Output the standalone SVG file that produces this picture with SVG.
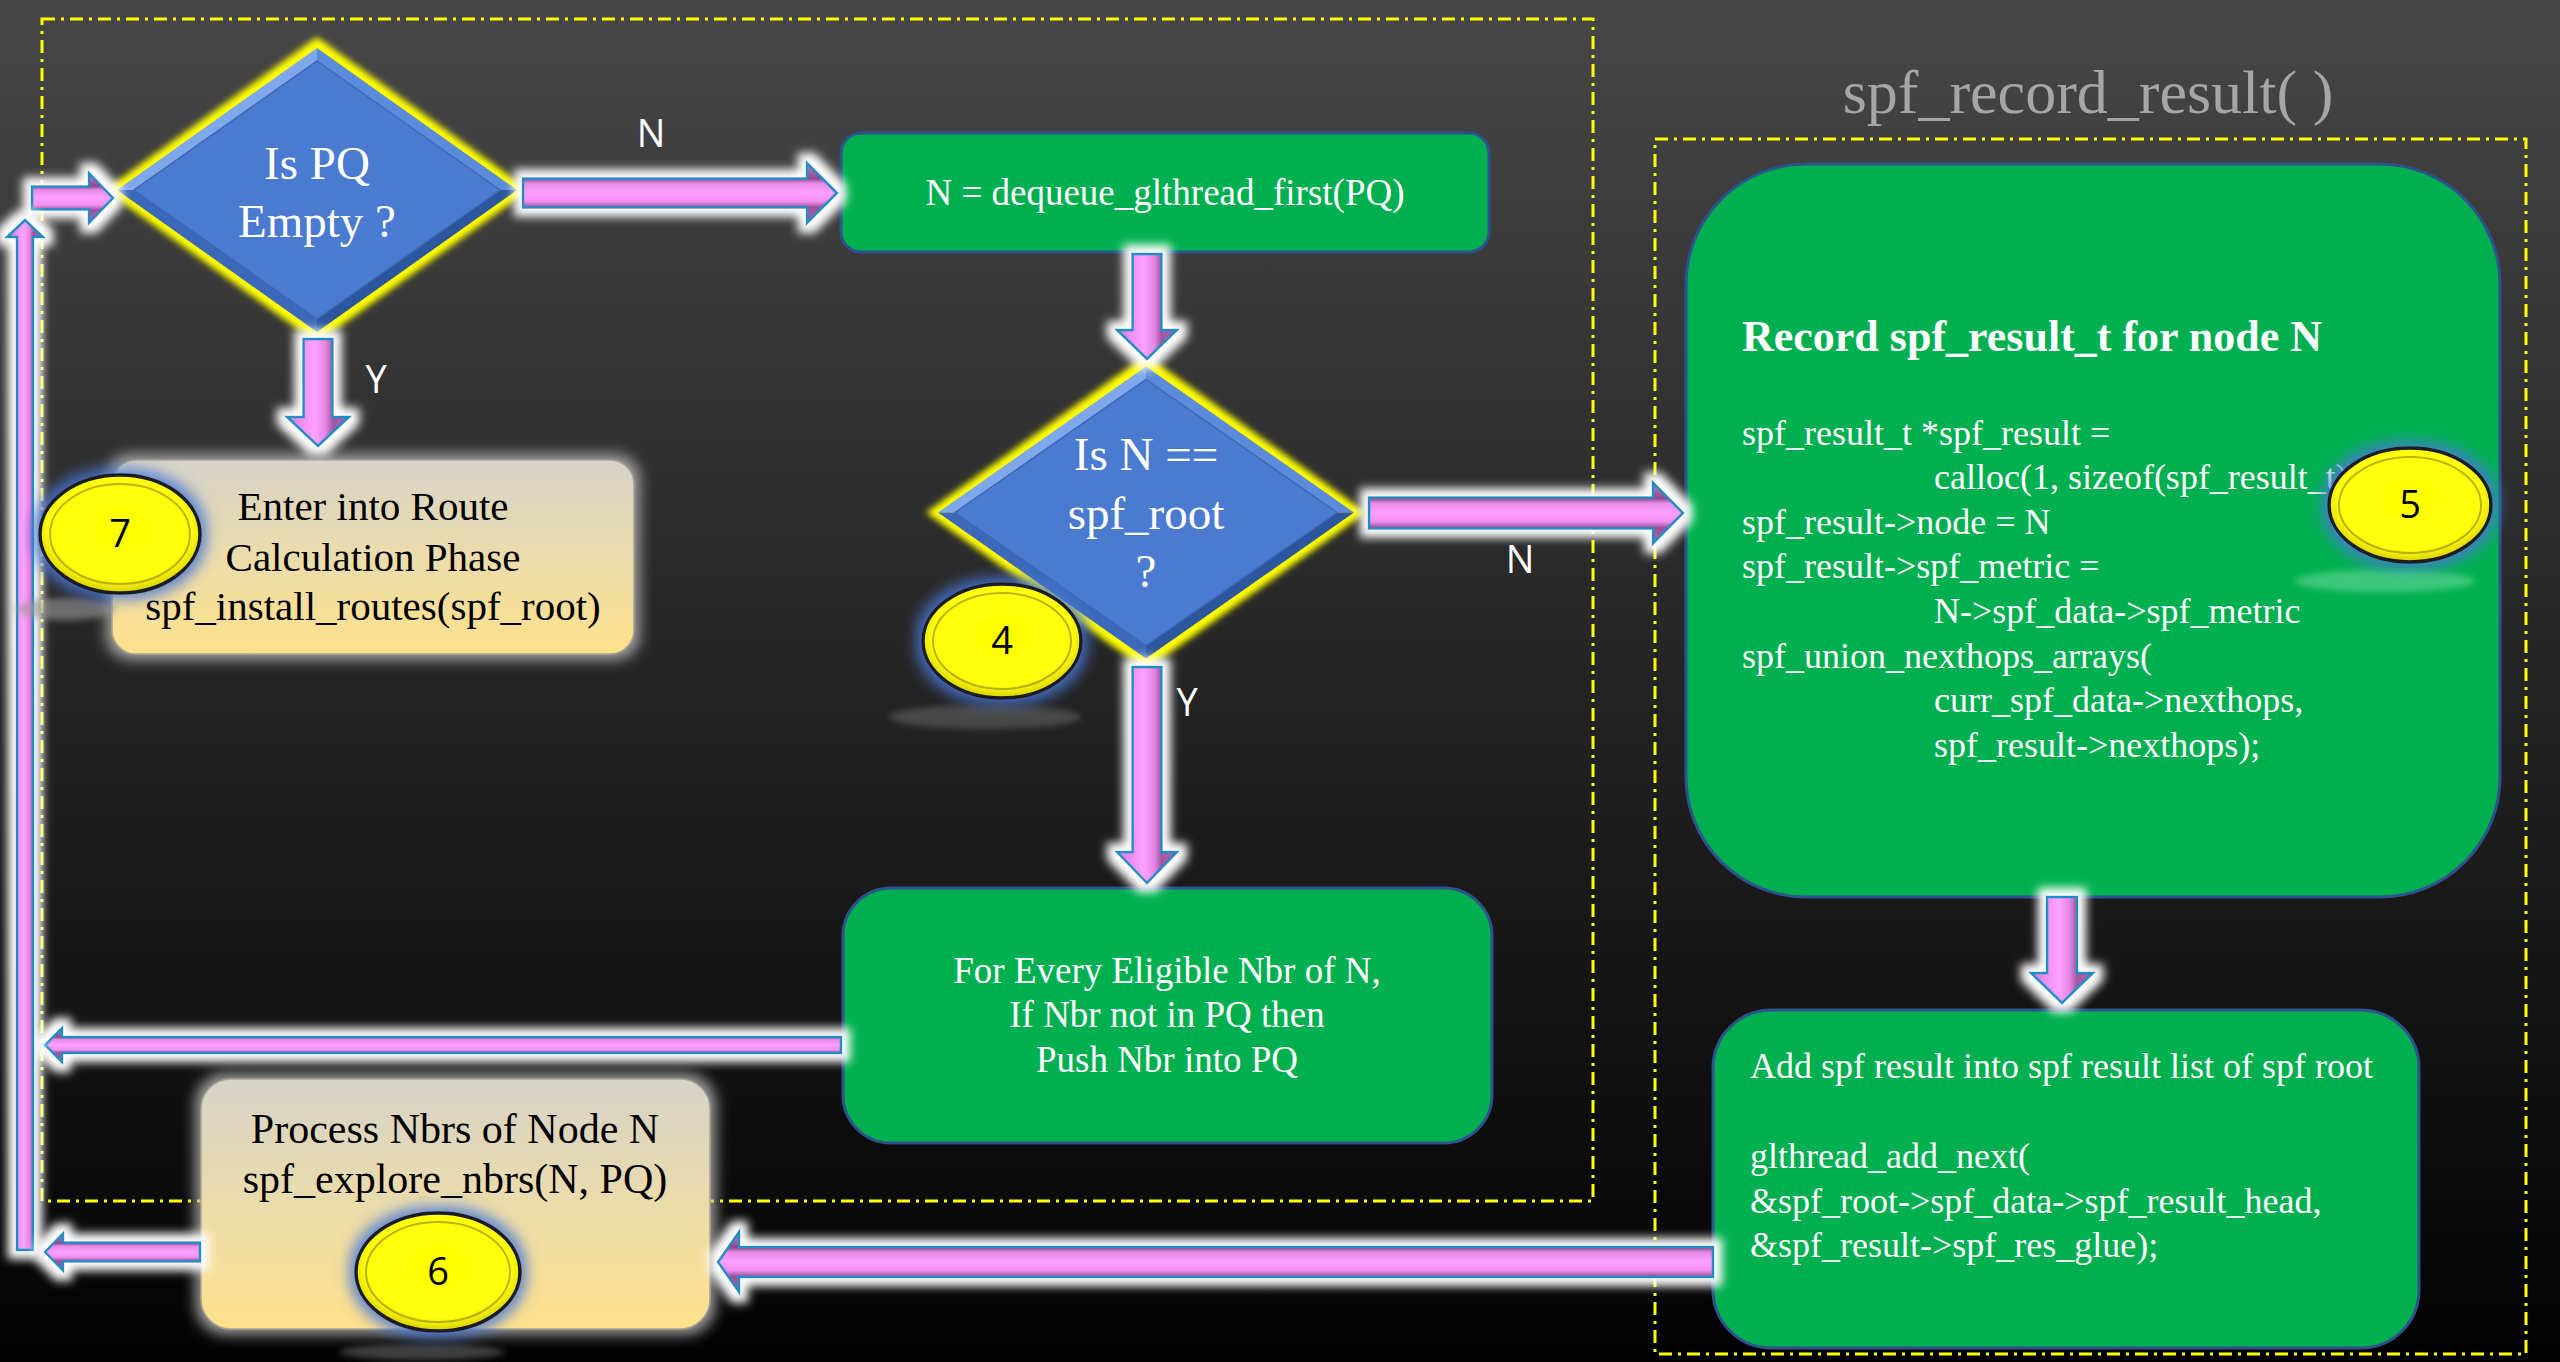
<svg xmlns="http://www.w3.org/2000/svg" width="2560" height="1362" viewBox="0 0 2560 1362">
  <defs>
    <linearGradient id="bg" x1="0" y1="0" x2="0" y2="1">
      <stop offset="0" stop-color="#474747"/>
      <stop offset="0.5" stop-color="#242424"/>
      <stop offset="1" stop-color="#020202"/>
    </linearGradient>
    <!-- pink beveled arrow shading, across the shaft -->
    <linearGradient id="pinkH" x1="0" y1="0" x2="0" y2="1">
      <stop offset="0" stop-color="#d27ad2"/>
      <stop offset="0.26" stop-color="#8c4a8c"/>
      <stop offset="0.34" stop-color="#e58ae5"/>
      <stop offset="0.5" stop-color="#ffa0ff"/>
      <stop offset="0.64" stop-color="#f28ef2"/>
      <stop offset="0.74" stop-color="#9a509a"/>
      <stop offset="1" stop-color="#b060b0"/>
    </linearGradient>
    <linearGradient id="pinkV" x1="0" y1="0" x2="1" y2="0">
      <stop offset="0" stop-color="#d27ad2"/>
      <stop offset="0.26" stop-color="#f090f0"/>
      <stop offset="0.45" stop-color="#ffa2ff"/>
      <stop offset="0.62" stop-color="#e586e5"/>
      <stop offset="0.74" stop-color="#a058a0"/>
      <stop offset="1" stop-color="#b060b0"/>
    </linearGradient>
    <linearGradient id="beige" x1="0" y1="0" x2="0" y2="1">
      <stop offset="0" stop-color="#d6d3c9"/>
      <stop offset="0.5" stop-color="#ebdcab"/>
      <stop offset="1" stop-color="#fee18b"/>
    </linearGradient>
    <radialGradient id="coin" cx="0.5" cy="0.45" r="0.55">
      <stop offset="0" stop-color="#ffff00"/>
      <stop offset="0.8" stop-color="#ffff10"/>
      <stop offset="1" stop-color="#d8d000"/>
    </radialGradient>
    <filter id="glow" filterUnits="userSpaceOnUse" x="-50" y="-50" width="2660" height="1462">
      <feMorphology in="SourceAlpha" operator="dilate" radius="8" result="d"/>
      <feGaussianBlur in="d" stdDeviation="5" result="b"/>
      <feFlood flood-color="#ffffff"/>
      <feComposite in2="b" operator="in" result="g"/>
      <feMerge><feMergeNode in="g"/><feMergeNode in="SourceGraphic"/></feMerge>
    </filter>
    <filter id="halo" filterUnits="userSpaceOnUse" x="-50" y="-50" width="2660" height="1462">
      <feMorphology in="SourceAlpha" operator="dilate" radius="5" result="d"/>
      <feGaussianBlur in="d" stdDeviation="7" result="b"/>
      <feFlood flood-color="#b8b8b8" flood-opacity="0.85"/>
      <feComposite in2="b" operator="in" result="g"/>
      <feMerge><feMergeNode in="g"/><feMergeNode in="SourceGraphic"/></feMerge>
    </filter>
    <filter id="coinGlow" filterUnits="userSpaceOnUse" x="-50" y="-50" width="2660" height="1462">
      <feMorphology in="SourceAlpha" operator="dilate" radius="5" result="d"/>
      <feGaussianBlur in="d" stdDeviation="7" result="b"/>
      <feFlood flood-color="#4a78d8" flood-opacity="0.85"/>
      <feComposite in2="b" operator="in" result="g"/>
      <feMerge><feMergeNode in="g"/><feMergeNode in="SourceGraphic"/></feMerge>
    </filter>
    <filter id="soft" x="-20%" y="-20%" width="140%" height="140%">
      <feGaussianBlur stdDeviation="3"/>
    </filter>
    <filter id="shadow" x="-30%" y="-100%" width="160%" height="300%">
      <feGaussianBlur stdDeviation="3"/>
    </filter>
  </defs>
  <style>
    .frame { fill: none; stroke: #ffff00; stroke-width: 3; stroke-dasharray: 13 6 3 6; }
    .title { fill: #a6a6a6; font-family: 'Liberation Serif', 'DejaVu Serif', serif; font-size: 62px; text-anchor: middle; }
    .arrow { stroke: #1f8fc4; stroke-width: 2.5; stroke-linejoin: miter; filter: url(#glow); }
    .ah { fill: url(#pinkH); }
    .av { fill: url(#pinkV); }
    .green { fill: #00b050; stroke: #2f528f; stroke-width: 3; }
    .beige { fill: url(#beige); stroke: #a9a48f; stroke-width: 1.5; filter: url(#halo); }
    .ylw { fill: #ffff00; filter: url(#soft); }
    .f-tl { fill: #7fa8ec; }
    .f-tr { fill: #5c8bdb; }
    .f-br { fill: #2c569e; }
    .f-bl { fill: #3b68b8; }
    .dia { fill: #4a7bd0; stroke: #3d68b5; stroke-width: 1.5; }
    .serif { font-family: 'Liberation Serif', 'DejaVu Serif', serif; }
    .w { fill: #ffffff; }
    .k { fill: #000000; }
    .mid { text-anchor: middle; }
    .lbl { fill: #ffffff; font-family: 'Open Sans', 'DejaVu Sans', sans-serif; font-size: 38px; text-anchor: middle; }
    .coin { fill: url(#coin); stroke: #1c1c1c; stroke-width: 3.5; filter: url(#coinGlow); }
    .ring { fill: none; stroke: #9c9400; stroke-width: 2; opacity: 0.7; }
    .num { fill: #000000; font-family: 'Open Sans', 'DejaVu Sans', sans-serif; font-size: 38px; text-anchor: middle; }
    .shade { filter: url(#shadow); }
  </style>

  <!-- backdrop -->
  <rect x="0" y="0" width="2560" height="1362" fill="url(#bg)"/>

  <!-- dash-dot grouping frames -->
  <rect class="frame" x="42" y="19" width="1551" height="1182"/>
  <rect class="frame" x="1655" y="139" width="871" height="1215"/>
  <text class="title" x="2088" y="113">spf_record_result( )</text>

  <!-- decision: queue empty -->
  <g id="is-pq-empty">
    <polygon class="ylw" points="317,37 529,190 317,343 105,190"/>
    <polygon class="f-tl" points="117,190 317,48 317,61 134,190"/>
    <polygon class="f-tr" points="317,48 517,190 500,190 317,61"/>
    <polygon class="f-br" points="517,190 317,332 317,319 500,190"/>
    <polygon class="f-bl" points="317,332 117,190 134,190 317,319"/>
    <polygon class="dia" points="317,61 500,190 317,319 134,190"/>
    <text class="serif w mid" font-size="47" x="317" y="179">Is PQ</text>
    <text class="serif w mid" font-size="47" x="317" y="237">Empty ?</text>
  </g>

  <!-- step: dequeue -->
  <g id="dequeue">
    <rect class="green" x="841" y="133" width="648" height="119" rx="20"/>
    <text class="serif w mid" font-size="37" x="1165" y="205">N = dequeue_glthread_first(PQ)</text>
  </g>

  <!-- decision: root node -->
  <g id="is-root">
    <polygon class="ylw" points="1146,355 1366,512.5 1146,670 926,512.5"/>
    <polygon class="f-tl" points="938,512.5 1146,366.5 1146,379.5 955,512.5"/>
    <polygon class="f-tr" points="1146,366.5 1354,512.5 1337,512.5 1146,379.5"/>
    <polygon class="f-br" points="1354,512.5 1146,658.5 1146,645.5 1337,512.5"/>
    <polygon class="f-bl" points="1146,658.5 938,512.5 955,512.5 1146,645.5"/>
    <polygon class="dia" points="1146,379.5 1337,512.5 1146,645.5 955,512.5"/>
    <text class="serif w mid" font-size="47" x="1146" y="470">Is N ==</text>
    <text class="serif w mid" font-size="47" x="1146" y="529">spf_root</text>
    <text class="serif w mid" font-size="47" x="1146" y="587">?</text>
  </g>

  <!-- step: push neighbours -->
  <g id="push-nbrs">
    <rect class="green" x="843" y="888" width="649" height="255" rx="48"/>
    <text class="serif w mid" font-size="37" x="1167" y="983">For Every Eligible Nbr of N,</text>
    <text class="serif w mid" font-size="37" x="1167" y="1027">If Nbr not in PQ then</text>
    <text class="serif w mid" font-size="37" x="1167" y="1072">Push Nbr into PQ</text>
  </g>

  <!-- step: route calculation -->
  <g id="route-calc">
    <rect class="beige" x="112" y="460" width="522" height="194" rx="24"/>
    <text class="serif k mid" font-size="41" x="373" y="520">Enter into Route</text>
    <text class="serif k mid" font-size="41" x="373" y="571">Calculation Phase</text>
    <text class="serif k mid" font-size="41" x="373" y="620">spf_install_routes(spf_root)</text>
  </g>

  <!-- step: explore neighbours -->
  <g id="explore-nbrs">
    <rect class="beige" x="201" y="1079" width="509" height="250" rx="30"/>
    <text class="serif k mid" font-size="42" x="455" y="1143">Process Nbrs of Node N</text>
    <text class="serif k mid" font-size="42" x="455" y="1193">spf_explore_nbrs(N, PQ)</text>
  </g>

  <!-- spf_record_result(): record -->
  <g id="record-result">
    <rect class="green" x="1686" y="164" width="814" height="733" rx="120"/>
    <text class="serif w" font-size="44" font-weight="bold" x="1742" y="351">Record spf_result_t for node N</text>
    <g class="serif w" font-size="36">
      <text x="1742" y="445">spf_result_t *spf_result =</text>
      <text x="1934" y="489">calloc(1, sizeof(spf_result_t));</text>
      <text x="1742" y="534">spf_result-&gt;node = N</text>
      <text x="1742" y="578">spf_result-&gt;spf_metric =</text>
      <text x="1934" y="623">N-&gt;spf_data-&gt;spf_metric</text>
      <text x="1742" y="668">spf_union_nexthops_arrays(</text>
      <text x="1934" y="712">curr_spf_data-&gt;nexthops,</text>
      <text x="1934" y="757">spf_result-&gt;nexthops);</text>
    </g>
  </g>

  <!-- spf_record_result(): append to list -->
  <g id="add-result">
    <rect class="green" x="1713" y="1010" width="706" height="338" rx="58"/>
    <g class="serif w" font-size="36">
      <text x="1750" y="1078">Add spf result into spf result list of spf root</text>
      <text x="1750" y="1168">glthread_add_next(</text>
      <text x="1750" y="1213">&amp;spf_root-&gt;spf_data-&gt;spf_result_head,</text>
      <text x="1750" y="1257">&amp;spf_result-&gt;spf_res_glue);</text>
    </g>
  </g>

  <!-- connectors -->
  <g id="connectors">
    <polygon class="arrow ah" points="32,186.5 89,186.5 89,173 113,198 89,223 89,209.5 32,209.5"/>
    <polygon class="arrow ah" points="523,178.5 807,178.5 807,163 837,193 807,223 807,207.5 523,207.5"/>
    <polygon class="arrow av" points="303.5,339 332.5,339 332.5,417 349,417 318,446 287,417 303.5,417"/>
    <polygon class="arrow av" points="1132.5,254 1161.5,254 1161.5,330 1177,330 1147,359 1117,330 1132.5,330"/>
    <polygon class="arrow ah" points="1369,497.5 1653,497.5 1653,482.5 1683,513 1653,543.5 1653,528.5 1369,528.5"/>
    <polygon class="arrow av" points="1132.5,667 1161.5,667 1161.5,852 1177,852 1147,883 1117,852 1132.5,852"/>
    <polygon class="arrow ah" points="841,1037 62,1037 62,1028 45,1045 62,1062 62,1053 841,1053"/>
    <polygon class="arrow av" points="17,1250 33,1250 33,237 43,237 25,220 7,237 17,237"/>
    <polygon class="arrow ah" points="200,1242.5 63,1242.5 63,1233.5 45,1252 63,1270.5 63,1261.5 200,1261.5"/>
    <polygon class="arrow ah" points="1713,1247 739,1247 739,1232 718,1262 739,1292 739,1277 1713,1277"/>
    <polygon class="arrow av" points="2047,897 2077,897 2077,973 2093,973 2062,1003 2031,973 2047,973"/>
    <text class="lbl" x="651" y="147">N</text>
    <text class="lbl" x="376" y="393">Y</text>
    <text class="lbl" x="1520" y="573">N</text>
    <text class="lbl" x="1187" y="716">Y</text>
  </g>

  <!-- numbered step badges -->
  <g id="badge-4">
    <ellipse class="shade" cx="985" cy="717" rx="96" ry="12" fill="#5a5a5a" opacity="0.7"/>
    <ellipse class="coin" cx="1002" cy="641" rx="79" ry="57"/>
    <ellipse class="ring" cx="1002" cy="641" rx="69" ry="48"/>
    <text class="num" x="1002" y="654">4</text>
  </g>
  <g id="badge-5">
    <ellipse class="shade" cx="2385" cy="581" rx="90" ry="11" fill="#7fe0a8" opacity="0.5"/>
    <ellipse class="coin" cx="2410" cy="505" rx="81" ry="57"/>
    <ellipse class="ring" cx="2410" cy="505" rx="71" ry="48"/>
    <text class="num" x="2410" y="518">5</text>
  </g>
  <g id="badge-6">
    <ellipse class="shade" cx="422" cy="1352" rx="83" ry="8" fill="#5a5a5a" opacity="0.7"/>
    <ellipse class="coin" cx="438" cy="1272" rx="82" ry="59"/>
    <ellipse class="ring" cx="438" cy="1272" rx="72" ry="50"/>
    <text class="num" x="438" y="1285">6</text>
  </g>
  <g id="badge-7">
    <ellipse class="shade" cx="66" cy="609" rx="50" ry="11" fill="#9a9a9a" opacity="0.6"/>
    <ellipse class="coin" cx="120" cy="534" rx="80" ry="59"/>
    <ellipse class="ring" cx="120" cy="534" rx="70" ry="50"/>
    <text class="num" x="120" y="547">7</text>
  </g>
</svg>
